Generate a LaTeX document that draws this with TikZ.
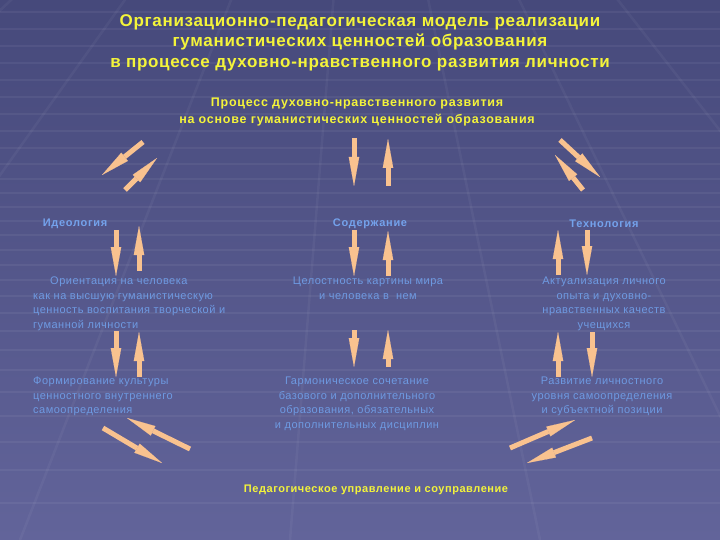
\documentclass[tikz,border=0pt]{standalone}
\usepackage{fontspec}
\setmainfont{Liberation Sans}
\usetikzlibrary{arrows.meta}
\definecolor{bgtop}{HTML}{46497B}
\definecolor{bgbot}{HTML}{62649A}
\definecolor{peach}{HTML}{F9C28F}
\definecolor{shadowc}{HTML}{7C82C4}
\definecolor{ttlc}{HTML}{F4F43A}
\definecolor{lblc}{HTML}{74A2EC}
\definecolor{txtc}{HTML}{6E9AE2}
\newfontfamily\ttlfont[LetterSpace=4]{Liberation Sans}
\newfontfamily\subfont[LetterSpace=6]{Liberation Sans}
\newfontfamily\updfont[LetterSpace=5]{Liberation Sans}
\newfontfamily\lblfont[LetterSpace=6.5]{Liberation Sans}
\newfontfamily\bodyfont[LetterSpace=4.5]{Liberation Sans}
\tikzset{
  arr/.style={draw=peach, line width=5pt, -{Triangle[length=29pt,width=10.5pt,line width=0.1pt]}},
  arrshadow/.style={draw=shadowc, opacity=0.35, line width=4pt, -{Triangle[length=29pt,width=8pt,line width=0.1pt]}, xshift=-4pt, yshift=2pt},
  ttl/.style={text=ttlc, font=\ttlfont\bfseries\fontsize{17}{20.5}\selectfont, align=center, inner sep=0pt},
  sub/.style={text=ttlc, font=\subfont\bfseries\fontsize{12.5}{17}\selectfont, align=center, inner sep=0pt},
  lbl/.style={text=lblc, font=\lblfont\bfseries\fontsize{11}{13}\selectfont, inner sep=0pt},
  body/.style={text=txtc, font=\bodyfont\fontsize{11}{14.5}\selectfont, inner sep=0pt},
  gridl/.style={white, opacity=0.055, line width=1.5pt}
}
\begin{document}
\begin{tikzpicture}[x=1pt,y=-1pt]
\useasboundingbox (0,0) rectangle (720,540);
\shade[top color=bgtop, bottom color=bgbot] (0,0) rectangle (720,540);
\begin{scope}
\clip (0,0) rectangle (720,540);
\foreach \y in {12,29,46,63,80,97,114,131,148,164,179,193,207,221,235,250,265,280,296,313,331,350,370,392,416,442,470,503}
  \draw[gridl] (0,\y) -- (720,\y);
\foreach \x in {-900,-560,-260,20,290,540,780,1040,1330,1640}
  \draw[white, opacity=0.045, line width=2.5pt] (360,-330) -- (\x,540);
\end{scope}

% titles
\node[ttl, anchor=north] (title) at (360,14) {Организационно-педагогическая модель реализации\\гуманистических ценностей образования\\в процессе духовно-нравственного развития личности};
\node[sub, anchor=north] (proc) at (357,98) {Процесс духовно-нравственного развития\\на основе гуманистических ценностей образования};

% labels
\node[lbl] (ideo) at (75,224) {Идеология};
\node[lbl] (sod) at (370,224) {Содержание};
\node[lbl] (tech) at (604,224) {Технология};

% text blocks
\node[body, anchor=north west, align=left] (t1) at (33,277) {\hspace*{17pt}Ориентация на человека\\как на высшую гуманистическую\\ценность воспитания творческой и\\гуманной личности};
\node[body, anchor=north, align=center] (t2) at (368,277) {Целостность картины мира\\и человека в\ \ нем};
\node[body, anchor=north, align=center] (t3) at (604,277) {Актуализация личного\\опыта и духовно-\\нравственных качеств\\учещихся};
\node[body, anchor=north west, align=left] (t4) at (33,377) {Формирование культуры\\ценностного внутреннего\\самоопределения};
\node[body, anchor=north, align=center] (t5) at (357,377) {Гармоническое сочетание\\базового и дополнительного\\образования, обязательных\\и дополнительных дисциплин};
\node[body, anchor=north, align=center] (t6) at (602,377) {Развитие личностного\\уровня самоопределения\\и субъектной позиции};

\node[text=ttlc, font=\updfont\bfseries\fontsize{11}{12}\selectfont, inner sep=0pt] (upr) at (376,490) {Педагогическое управление и соуправление};

% arrow end points
\coordinate (a1s) at (143,142); \coordinate (a1e) at (102,175);
\coordinate (a2s) at (125,190); \coordinate (a2e) at (157,158);
\coordinate (b1s) at (354,138); \coordinate (b1e) at (354,186);
\coordinate (b2s) at (388,186); \coordinate (b2e) at (388,139);
\coordinate (c1s) at (560,140); \coordinate (c1e) at (600,177);
\coordinate (c2s) at (583,190); \coordinate (c2e) at (555,155);
\coordinate (d1s) at (116,230); \coordinate (d1e) at (116,276);
\coordinate (d2s) at (139,271); \coordinate (d2e) at (139,226);
\coordinate (e1s) at (354,230); \coordinate (e1e) at (354,276);
\coordinate (e2s) at (388,276); \coordinate (e2e) at (388,231);
\coordinate (f1s) at (558,275); \coordinate (f1e) at (558,230);
\coordinate (f2s) at (587,230); \coordinate (f2e) at (587,275);
\coordinate (g1s) at (116,331); \coordinate (g1e) at (116,377);
\coordinate (g2s) at (139,377); \coordinate (g2e) at (139,332);
\coordinate (h1s) at (354,330); \coordinate (h1e) at (354,367);
\coordinate (h2s) at (388,367); \coordinate (h2e) at (388,330);
\coordinate (i1s) at (558,377); \coordinate (i1e) at (558,332);
\coordinate (i2s) at (592,332); \coordinate (i2e) at (592,377);
\coordinate (j1s) at (103,428); \coordinate (j1e) at (162,463);
\coordinate (j2s) at (190,449); \coordinate (j2e) at (127,418);
\coordinate (k1s) at (510,448); \coordinate (k1e) at (575,420);
\coordinate (k2s) at (592,438); \coordinate (k2e) at (527,463);

\foreach \p in {a1,a2,b1,b2,c1,c2,d1,d2,e1,e2,f1,f2,g1,g2,h1,h2,i1,i2,j1,j2,k1,k2}
  \draw[arrshadow] (\p s) -- (\p e);
\foreach \p in {a1,a2,b1,b2,c1,c2,d1,d2,e1,e2,f1,f2,g1,g2,h1,h2,i1,i2,j1,j2,k1,k2}
  \draw[arr] (\p s) -- (\p e);
\end{tikzpicture}
\end{document}
